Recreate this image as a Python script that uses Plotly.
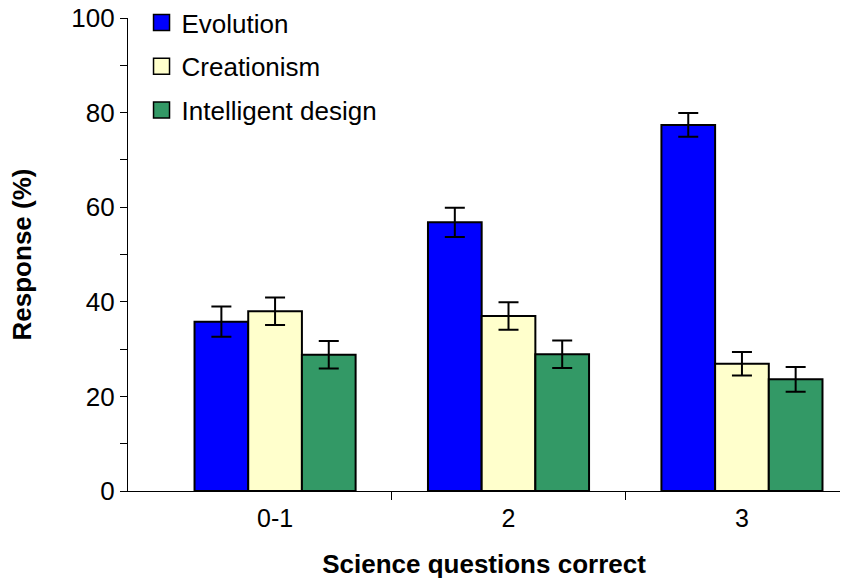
import plotly.graph_objects as go

categories = ["0-1", "2", "3"]
series_names = ["Evolution", "Creationism", "Intelligent design"]
evolution = [35.8, 56.8, 77.4]
creationism = [38.0, 37.0, 26.9]
intelligent = [28.8, 28.9, 23.6]
evolution_err = [3.2, 3.1, 2.5]
creationism_err = [2.9, 2.9, 2.5]
intelligent_err = [2.9, 2.9, 2.6]
colors = ["#0000FF", "#FFFFCC", "#339966"]
y_ticks = [0, 20, 40, 60, 80, 100]

FONT = "Liberation Sans, Arial, sans-serif"
xpos = list(range(len(categories)))

fig = go.Figure()
for name, vals, errs, col in zip(series_names, [evolution, creationism, intelligent],
                                  [evolution_err, creationism_err, intelligent_err], colors):
    fig.add_trace(go.Bar(
        x=xpos, y=vals, name=name, showlegend=False,
        marker=dict(color=col, line=dict(color="black", width=2)),
        error_y=dict(type="data", array=errs, visible=True, color="black",
                     thickness=2, width=10),
    ))
for i, (name, col) in enumerate(zip(series_names, colors)):
    fig.add_trace(go.Scatter(
        x=[None], y=[None], mode="markers", name=name, legendgroup=str(i),
        marker=dict(symbol="square", size=22, color=col, line=dict(color="black", width=1.5)),
    ))

fig.update_layout(
    width=844, height=579,
    margin=dict(l=128, r=4, t=18, b=88, autoexpand=False),
    paper_bgcolor="white", plot_bgcolor="white",
    barmode="group", bargap=0.31, bargroupgap=0,
    font=dict(family=FONT, size=26, color="black"),
    legend=dict(x=0.019, y=1.04, xanchor="left", yanchor="top",
                font=dict(size=26, family=FONT), tracegroupgap=7,
                bgcolor="rgba(0,0,0,0)", itemsizing="trace"),
    showlegend=True,
)
fig.update_xaxes(
    range=[-0.63, 2.42], tickvals=xpos, ticktext=categories, ticks="",
    showline=True, linecolor="black", linewidth=1.2, showgrid=False, zeroline=False,
    tickfont=dict(size=25), automargin=False, ticklabelstandoff=5,
    minor=dict(tickvals=[0.5, 1.5], ticks="outside", ticklen=8, tickwidth=1.2, tickcolor="black"),
    title=dict(text="<b>Science questions correct</b>", font=dict(size=26), standoff=24),
)
fig.update_yaxes(
    range=[0, 100], tickvals=y_ticks, ticks="outside", ticklen=7, tickwidth=1.2, tickcolor="black",
    showline=True, linecolor="black", linewidth=1.2, showgrid=False, zeroline=False,
    tickfont=dict(size=26), automargin=False, ticklabelstandoff=0,
    minor=dict(dtick=10, tick0=0, ticks="outside", ticklen=7, tickwidth=1.2, tickcolor="black", showgrid=False),
    title=dict(text="<b>Response (%)</b>", font=dict(size=26), standoff=32),
)
fig.write_html("out.html", post_script="document.body.style.margin='0';",
               config={"displayModeBar": False})
